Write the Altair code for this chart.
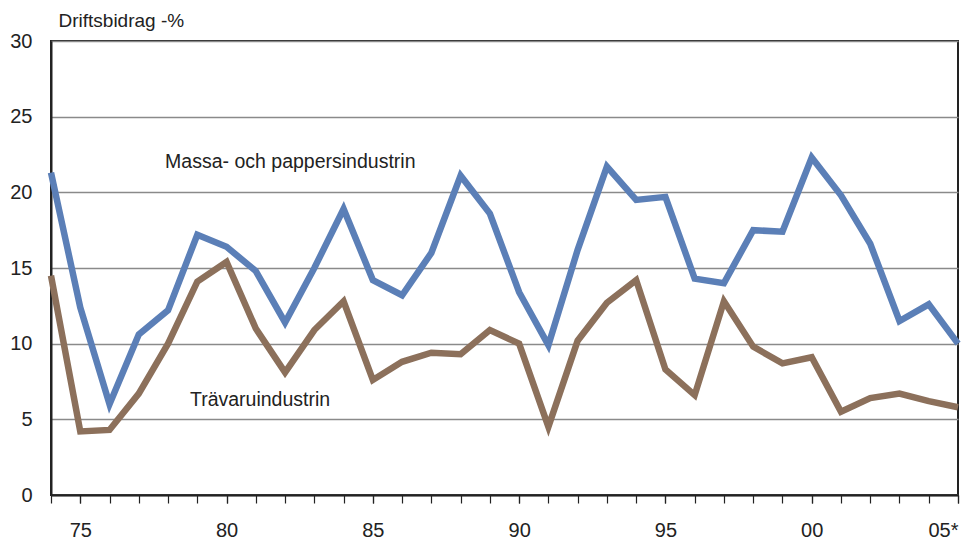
import altair as alt
import pandas as pd

years = list(range(1974, 2006))
label_years = [1975, 1980, 1985, 1990, 1995, 2000, 2005]
massa = [21.3, 12.4, 6.0, 10.6, 12.2, 17.2, 16.4, 14.8, 11.4, 15.0, 18.9, 14.2, 13.2, 16.0, 21.1, 18.6,
         13.4, 9.9, 16.2, 21.7, 19.5, 19.7, 14.3, 14.0, 17.5, 17.4, 22.3, 19.8, 16.6, 11.5, 12.6, 10.0]
trava = [14.5, 4.2, 4.3, 6.7, 10.0, 14.1, 15.4, 11.0, 8.1, 10.9, 12.8, 7.6, 8.8, 9.4, 9.3, 10.9,
         10.0, 4.5, 10.2, 12.7, 14.2, 8.3, 6.6, 12.8, 9.8, 8.7, 9.1, 5.5, 6.4, 6.7, 6.2, 5.8]
series_names = ["Massa- och pappersindustrin", "Trävaruindustrin"]
series_colors = ["#5B7FB7", "#8C705B"]
label_x = [1977.9, 1978.75]
label_y = [22.0, 6.3]
y_ticks = [0, 5, 10, 15, 20, 25, 30]

FONT = "Liberation Sans"

rows = []
for y, a, b in zip(years, massa, trava):
    rows.append({"year": y, "value": a, "series": series_names[0]})
    rows.append({"year": y, "value": b, "series": series_names[1]})
df = pd.DataFrame(rows)
labels = pd.DataFrame({"text": series_names, "year": label_x, "value": label_y})

xscale = alt.Scale(domain=[1974, 2005], nice=False, zero=False)
yscale = alt.Scale(domain=[0, 30], nice=False)

yaxis = alt.Axis(
    values=y_ticks, title="Driftsbidrag -%", titleAngle=0, titleAlign="left", titleX=7, titleY=-21,
    titleBaseline="middle", titleFont=FONT, titleFontSize=19, titleFontWeight="normal",
    titleColor="#222", grid=True, gridColor="#8a8a8a", gridWidth=1.5, tickSize=0,
    labelPadding=19, labelFontSize=20, labelFont=FONT, labelColor="#222",
    domainColor="#222", domainWidth=2)

lines = alt.Chart(df).mark_line(strokeWidth=6.5, strokeJoin="miter", strokeCap="butt").encode(
    x=alt.X("year:Q", scale=xscale, axis=alt.Axis(
        values=years, title=None, grid=False, tickSize=8, tickColor="#222", domainColor="#222",
        domainWidth=2, tickWidth=1.2, labels=False, orient="bottom")),
    y=alt.Y("value:Q", scale=yscale, axis=yaxis),
    color=alt.Color("series:N", scale=alt.Scale(domain=series_names, range=series_colors), legend=None),
    detail="series:N",
)

texts = alt.Chart(labels).mark_text(align="left", baseline="middle", fontSize=19.5, font=FONT,
                                     color="#222").encode(
    x=alt.X("year:Q", scale=xscale, axis=alt.Axis(
        values=label_years, title=None, grid=False, tickSize=8, tickColor="#222", tickWidth=1.2,
        domain=False, labelPadding=17, labelFontSize=20, labelFont=FONT, labelColor="#222",
        labelExpr="datum.value == 2005 ? '05*' : slice(toString(datum.value), 2)",
        labelAlign=alt.condition("datum.value == 2005", alt.value("right"), alt.value("center")),
        labelOverlap=False, labelFlush=False, orient="bottom")),
    y=alt.Y("value:Q", scale=yscale, axis=yaxis),
    text="text:N")

chart = (lines + texts).resolve_axis(x="independent").properties(
    width=907, height=454,
    background="white",
    autosize=alt.AutoSizeParams(type="none"),
    padding={"left": 43, "top": 33, "right": 8, "bottom": 45},
).configure_view(stroke="#222", strokeWidth=2)

chart.save("out.html", embed_options={"renderer": "svg", "actions": False})
